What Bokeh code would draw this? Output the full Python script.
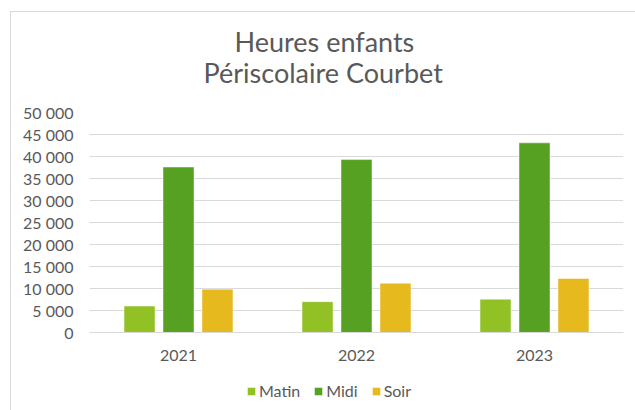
from bokeh.plotting import figure
from bokeh.models import (ColumnDataSource, FactorRange, Range1d, FixedTicker, Legend,
                          LegendItem, Title)
from bokeh.transform import dodge
from bokeh.embed import file_html
from bokeh.resources import INLINE

# ---- data ----
years = ["2021", "2022", "2023"]
matin = [6000, 7000, 7570]
midi = [37600, 39300, 43100]
soir = [9850, 11200, 12270]
series_names = ["Matin", "Midi", "Soir"]
series_colors = ["#92C125", "#56A022", "#E6B91F"]
y_ticks = list(range(0, 50001, 5000))
title_lines = ["Heures enfants", "Périscolaire Courbet"]

FONT = "Lato"
TXT = "#595959"
GRID = "#d9d9d9"

source = ColumnDataSource(data=dict(year=years, Matin=matin, Midi=midi, Soir=soir))

# frame extends below zero so the axis labels and legend live inside it
Y_MAX = 50000
PX_PER_UNIT = 220 / Y_MAX
EXTRA_PX = 73
p = figure(x_range=FactorRange(factors=years, range_padding=0),
           y_range=Range1d(-EXTRA_PX / PX_PER_UNIT, Y_MAX),
           frame_width=534, frame_height=220 + EXTRA_PX,
           min_border_left=78, min_border_right=12,
           min_border_top=100, min_border_bottom=5,
           output_backend="svg", toolbar_location=None, tools="")
p.margin = (11, 0, 0, 10)
p.styles = {"border-left": f"1px solid {GRID}", "border-top": f"1px solid {GRID}"}
p.outline_line_color = None
p.background_fill_color = "white"
p.border_fill_color = "white"

offsets = [-0.219, 0.0, 0.219]
renderers = []
for name, col, off in zip(series_names, series_colors, offsets):
    r = p.vbar(x=dodge("year", off, range=p.x_range), top=name, bottom=0, width=0.174,
               source=source, fill_color=col, line_color="white", line_alpha=0.45,
               line_width=1)
    renderers.append(r)

# grid
p.xgrid.grid_line_color = None
p.ygrid.grid_line_color = GRID
p.ygrid.grid_line_width = 1

# y axis
p.yaxis.ticker = FixedTicker(ticks=y_ticks)
p.yaxis.major_label_overrides = {v: f"{v:,}".replace(",", " ") for v in y_ticks}
p.yaxis.axis_line_color = None
p.yaxis.major_tick_line_color = None
p.yaxis.minor_tick_line_color = None
p.yaxis.major_tick_in = 0
p.yaxis.major_tick_out = 0
p.yaxis.minor_tick_in = 0
p.yaxis.minor_tick_out = 0
p.yaxis.major_label_standoff = 16
p.yaxis.major_label_text_font = FONT
p.yaxis.major_label_text_font_size = "16px"
p.yaxis.major_label_text_color = TXT

# x axis drawn at y = 0
p.xaxis.fixed_location = 0
p.xaxis.axis_line_color = GRID
p.xaxis.major_tick_line_color = None
p.xaxis.minor_tick_line_color = None
p.xaxis.major_tick_in = 0
p.xaxis.major_tick_out = 0
p.xaxis.minor_tick_in = 0
p.xaxis.minor_tick_out = 0
p.xaxis.major_label_standoff = 17
p.xaxis.major_label_text_font = FONT
p.xaxis.major_label_text_font_size = "16px"
p.xaxis.major_label_text_color = TXT

# legend
legend = Legend(items=[LegendItem(label=n, renderers=[r]) for n, r in zip(series_names, renderers)],
                orientation="horizontal", location=(157, 5),
                glyph_width=10, glyph_height=10, label_standoff=3, spacing=13,
                label_text_font=FONT, label_text_font_size="16px", label_text_color=TXT,
                border_line_color=None, background_fill_alpha=0,
                padding=0, margin=0)
p.add_layout(legend, "center")

# two-line title: p.title is the outer line, the added Title sits next to the frame
p.title.text = title_lines[0]
p.title.align = "left"
p.title.offset = 145
p.title.standoff = -48
p.title.text_font = FONT
p.title.text_font_size = "27px"
p.title.text_font_style = "normal"
p.title.text_color = TXT
p.add_layout(Title(text=title_lines[1], align="left", offset=114, standoff=44,
                   vertical_align="top",
                   text_font=FONT, text_font_size="27px", text_font_style="normal",
                   text_color=TXT), "above")

open("out.html", "w").write(file_html(p, INLINE))
